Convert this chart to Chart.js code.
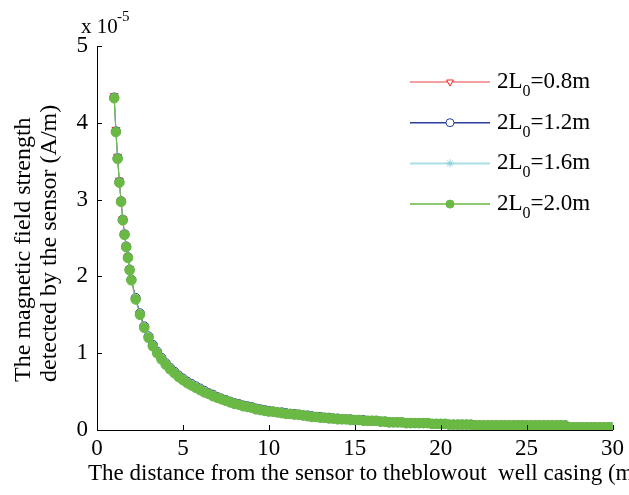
<!DOCTYPE html>
<html>
<head>
<meta charset="utf-8">
<script src="https://cdn.jsdelivr.net/npm/chart.js@4.4.0/dist/chart.umd.min.js"></script>
<style>
html, body { margin: 0; padding: 0; background: #fff; }
#wrap { width: 629px; height: 495px; position: relative; }
</style>
</head>
<body>
<div id="wrap"><canvas id="myChart"></canvas></div>
<script>
// data (field in units of 1e-5 A/m)
const distance = [1.0,1.1,1.2,1.3,1.4,1.5,1.6,1.7,1.8,1.9,
  2.0,2.25,2.5,2.75,3.0,3.25,3.5,3.75,
  4.0,4.25,4.5,4.75, 5.0,5.25,5.5,5.75, 6.0,6.25,6.5,6.75, 7.0,7.25,7.5,7.75,
  8.0,8.25,8.5,8.75, 9.0,9.25,9.5,9.75, 10,10.25,10.5,10.75, 11,11.25,11.5,11.75,
  12,12.25,12.5,12.75, 13,13.25,13.5,13.75, 14,14.25,14.5,14.75, 15,15.25,15.5,15.75,
  16,16.25,16.5,16.75, 17,17.25,17.5,17.75, 18,18.25,18.5,18.75, 19,19.25,19.5,19.75,
  20,20.25,20.5,20.75, 21,21.25,21.5,21.75, 22,22.25,22.5,22.75, 23,23.25,23.5,23.75,
  24,24.25,24.5,24.75, 25,25.25,25.5,25.75, 26,26.25,26.5,26.75, 27,27.25,27.5,27.75,
  28,28.25,28.5,28.75, 29,29.25,29.5,29.75, 30];

const field08 = [4.35,3.91,3.56,3.25,2.99,2.75,2.56,2.40,2.26,2.10,
  1.96,1.71,1.51,1.34,1.21,1.10,1.01,0.93,
  0.86,0.80,0.75,0.70, 0.66,0.62,0.59,0.56, 0.53,0.50,0.47,0.45, 0.42,0.40,0.38,0.36,
  0.34,0.33,0.31,0.30, 0.29,0.27,0.26,0.25, 0.24,0.24,0.23,0.22, 0.21,0.21,0.20,0.20,
  0.19,0.18,0.17,0.17, 0.16,0.16,0.15,0.15, 0.14,0.14,0.14,0.13, 0.13,0.13,0.12,0.12,
  0.12,0.12,0.11,0.11, 0.10,0.10,0.10,0.10, 0.09,0.09,0.09,0.09, 0.09,0.09,0.08,0.08,
  0.08,0.08,0.07,0.07, 0.07,0.07,0.07,0.07, 0.06,0.06,0.06,0.06, 0.06,0.06,0.06,0.06,
  0.06,0.06,0.06,0.06, 0.06,0.06,0.06,0.06, 0.06,0.06,0.06,0.06, 0.06,0.06,0.035,0.035,
  0.035,0.035,0.035,0.035, 0.035,0.035,0.035,0.035, 0.035];
const field12 = [4.33,3.89,3.54,3.23,2.98,2.74,2.55,2.39,2.25,2.09,
  1.96,1.72,1.52,1.35,1.22,1.11,1.02,0.94,
  0.87,0.81,0.76,0.71, 0.67,0.63,0.60,0.57, 0.54,0.51,0.48,0.46, 0.43,0.41,0.39,0.37,
  0.35,0.34,0.32,0.31, 0.30,0.28,0.27,0.26, 0.25,0.24,0.23,0.23, 0.22,0.21,0.21,0.20,
  0.19,0.19,0.18,0.17, 0.17,0.16,0.16,0.15, 0.15,0.14,0.14,0.14, 0.13,0.13,0.13,0.12,
  0.12,0.12,0.11,0.11, 0.10,0.10,0.10,0.10, 0.09,0.09,0.09,0.09, 0.09,0.09,0.08,0.08,
  0.08,0.08,0.07,0.07, 0.07,0.07,0.07,0.07, 0.06,0.06,0.06,0.06, 0.06,0.06,0.06,0.06,
  0.06,0.06,0.06,0.06, 0.06,0.06,0.06,0.06, 0.06,0.06,0.06,0.06, 0.06,0.06,0.035,0.035,
  0.035,0.035,0.035,0.035, 0.035,0.035,0.035,0.035, 0.035];
const field16 = [4.32,3.88,3.53,3.22,2.97,2.73,2.54,2.38,2.24,2.08,
  1.94,1.69,1.49,1.32,1.19,1.08,0.99,0.91,
  0.84,0.78,0.73,0.68, 0.64,0.60,0.57,0.54, 0.51,0.48,0.46,0.43, 0.41,0.39,0.37,0.35,
  0.33,0.32,0.30,0.29, 0.28,0.26,0.25,0.24, 0.23,0.23,0.22,0.21, 0.20,0.20,0.19,0.19,
  0.18,0.17,0.16,0.16, 0.15,0.15,0.14,0.14, 0.13,0.13,0.13,0.12, 0.12,0.12,0.11,0.11,
  0.11,0.11,0.10,0.10, 0.09,0.09,0.09,0.09, 0.08,0.08,0.08,0.08, 0.08,0.08,0.07,0.07,
  0.07,0.07,0.06,0.06, 0.06,0.06,0.06,0.06, 0.05,0.05,0.05,0.05, 0.05,0.05,0.05,0.05,
  0.05,0.05,0.05,0.05, 0.05,0.05,0.05,0.05, 0.05,0.05,0.05,0.05, 0.05,0.05,0.03,0.03,
  0.03,0.03,0.03,0.03, 0.03,0.03,0.03,0.03, 0.03];
const field20 = [4.32,3.88,3.53,3.22,2.97,2.73,2.54,2.38,2.24,2.08,
  1.95,1.70,1.50,1.33,1.20,1.09,1.00,0.92,
  0.85,0.79,0.74,0.69, 0.65,0.61,0.58,0.55, 0.52,0.49,0.47,0.44, 0.42,0.40,0.38,0.36,
  0.34,0.33,0.31,0.30, 0.29,0.27,0.26,0.25, 0.24,0.24,0.23,0.22, 0.21,0.21,0.20,0.20,
  0.19,0.18,0.17,0.17, 0.16,0.16,0.15,0.15, 0.14,0.14,0.14,0.13, 0.13,0.13,0.12,0.12,
  0.12,0.12,0.11,0.11, 0.10,0.10,0.10,0.10, 0.09,0.09,0.09,0.09, 0.09,0.09,0.08,0.08,
  0.08,0.08,0.07,0.07, 0.07,0.07,0.07,0.07, 0.06,0.06,0.06,0.06, 0.06,0.06,0.06,0.06,
  0.06,0.06,0.06,0.06, 0.06,0.06,0.06,0.06, 0.06,0.06,0.06,0.06, 0.06,0.06,0.035,0.035,
  0.035,0.035,0.035,0.035, 0.035,0.035,0.035,0.035, 0.035];

const lengths = ['0.8m', '1.2m', '1.6m', '2.0m'];
const yTicks = [0, 1, 2, 3, 4, 5];
const xTicks = [0, 5, 10, 15, 20, 25, 30];
const xTitle = 'The distance from the sensor to theblowout  well casing (m)';
const yTitle = ['The magnetic field strength', 'detected by the sensor (A/m)'];

const FONT = "'Liberation Serif', 'Times New Roman', serif";

function toPoints(ys) {
    return distance.map((d, i) => ({ x: d, y: ys[i] }));
}

const seriesStyle = [
    { data: field08, line: '#f08080', point: '#ff2020', fill: '#ffffff', style: 'triangle', rot: 180, r: 4.5, order: 4 },
    { data: field12, line: '#2b3f96', point: '#2b3f96', fill: '#ffffff', style: 'circle', rot: 0, r: 4.5, order: 3 },
    { data: field16, line: '#a8dfe4', point: '#86d0dc', fill: '#86d0dc', style: 'star', rot: 0, r: 4.5, order: 2 },
    { data: field20, line: '#6ab944', point: '#6ab944', fill: '#6ab944', style: 'circle', rot: 0, r: 4.8, order: 1 }
];

const datasets = seriesStyle.map((s, i) => ({
    label: '2L0=' + lengths[i],
    data: toPoints(s.data),
    borderColor: s.line,
    borderWidth: 1,
    pointStyle: s.style,
    pointRotation: s.rot,
    pointRadius: s.r,
    pointBorderColor: s.point,
    pointBackgroundColor: s.fill,
    pointBorderWidth: 1,
    order: s.order,
    tension: 0
}));

// inward tick marks, axis titles, exponent label, legend with subscripts
const extras = {
    id: 'extras',
    afterDraw(chart) {
        const ctx = chart.ctx;
        const xs = chart.scales.x, ys = chart.scales.y;
        ctx.save();
        ctx.strokeStyle = '#000';
        ctx.lineWidth = 1;
        ctx.beginPath();
        yTicks.forEach(v => {
            const py = Math.round(ys.getPixelForValue(v)) + 0.5;
            ctx.moveTo(xs.left, py);
            ctx.lineTo(xs.left + 5, py);
        });
        xTicks.forEach(v => {
            const px = Math.round(xs.getPixelForValue(v)) + 0.5;
            ctx.moveTo(px, ys.bottom);
            ctx.lineTo(px, ys.bottom - 5);
        });
        ctx.stroke();

        ctx.fillStyle = '#000';
        ctx.textBaseline = 'alphabetic';
        ctx.textAlign = 'left';

        // axis titles
        ctx.font = '23px ' + FONT;
        ctx.fillText(xTitle, 88, 480);
        ctx.font = '24px ' + FONT;
        ctx.save();
        ctx.translate(0, 382);
        ctx.rotate(-Math.PI / 2);
        ctx.fillText(yTitle[0], 0, 30);
        ctx.fillText(yTitle[1], 0, 56);
        ctx.restore();

        // x 10^-5
        ctx.font = '21px ' + FONT;
        ctx.fillText('x 10', 81, 33);
        ctx.font = '15px ' + FONT;
        ctx.fillText('-5', 117, 21);

        // legend
        seriesStyle.forEach((s, i) => {
            const y = 82 + i * 40.7;
            ctx.strokeStyle = s.line;
            ctx.lineWidth = s.style === 'star' ? 2 : 1.5;
            ctx.beginPath();
            ctx.moveTo(410, y);
            ctx.lineTo(490, y);
            ctx.stroke();
            ctx.fillStyle = s.fill;
            ctx.strokeStyle = s.point;
            ctx.lineWidth = 1;
            Chart.helpers.drawPoint(ctx, { pointStyle: s.style, rotation: s.rot, radius: 4, borderWidth: 1 }, 450, y);

            ctx.fillStyle = '#000';
            ctx.font = '23px ' + FONT;
            let tx = 497;
            ctx.fillText('2L', tx, y + 6);
            tx += ctx.measureText('2L').width;
            ctx.font = '16px ' + FONT;
            ctx.fillText('0', tx, y + 14);
            tx += ctx.measureText('0').width;
            ctx.font = '23px ' + FONT;
            ctx.fillText('=' + lengths[i], tx, y + 6);
        });
        ctx.restore();
    }
};

const ctx = document.getElementById('myChart').getContext('2d');
const myChart = new Chart(ctx, {
    type: 'line',
    data: { datasets: datasets },
    options: {
        responsive: true,
        maintainAspectRatio: false,
        animation: false,
        layout: { padding: { top: 46, right: 15, left: 0, bottom: 0 } },
        plugins: {
            legend: { display: false },
            tooltip: { enabled: false }
        },
        scales: {
            x: {
                type: 'linear',
                min: 0, max: 30,
                afterFit: s => { s.height = 65; },
                afterBuildTicks: s => { s.ticks = xTicks.map(v => ({ value: v })); },
                grid: { display: true, drawOnChartArea: false, drawTicks: false },
                border: { display: true, color: '#000', width: 1 },
                ticks: { color: '#000', padding: 5, maxRotation: 0, font: { family: FONT, size: 23 } },
                title: { display: false }
            },
            y: {
                min: 0, max: 5,
                afterFit: s => { s.width = 97; },
                afterBuildTicks: s => { s.ticks = yTicks.map(v => ({ value: v })); },
                grid: { display: true, drawOnChartArea: false, drawTicks: false },
                border: { display: true, color: '#000', width: 1 },
                ticks: { color: '#000', padding: 9, font: { family: FONT, size: 23 } },
                title: { display: false }
            }
        }
    },
    plugins: [extras]
});
</script>
</body>
</html>
